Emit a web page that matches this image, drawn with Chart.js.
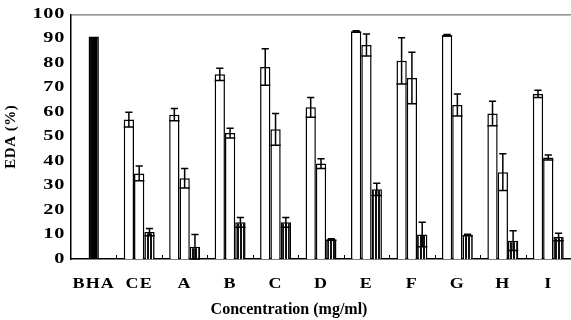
<!DOCTYPE html>
<html>
<head>
<meta charset="utf-8">
<script src="https://cdn.jsdelivr.net/npm/chart.js@4"></script>
<style>
  html, body { margin: 0; padding: 0; background: #fff; }
</style>
</head>
<body>
<canvas id="myChart" width="571" height="320"></canvas>
<script>
// data
const categories = ['BHA', 'CE', 'A', 'B', 'C', 'D', 'E', 'F', 'G', 'H', 'I'];
const series1 = [null, 57, 59, 75.5, 78.5, 62, 93, 81, 91.5, 59.5, 67.5];
const series1Err = [null, 3, 2.5, 2.5, 7.5, 4, 0.3, 9.5, 0.3, 5, 1.5];
const series2 = [91, 35, 33, 51.5, 53, 39, 87.5, 74, 63, 35.5, 41.5];
const series2Err = [0, 3, 4, 2, 6.5, 2, 4.5, 10.5, 4.5, 7.5, 1];
const series3 = [null, 11, 5, 15, 15, 8, 28.5, 10, 9.8, 7.5, 9];
const series3Err = [null, 1.5, 5, 2, 2, 0.3, 2.5, 5, 0.3, 4, 1.5];
const yTicks = [0, 10, 20, 30, 40, 50, 60, 70, 80, 90, 100];

const serif = 'Liberation Serif';

// vertical stripes for the third bar
function stripes() {
    const c = document.createElement('canvas');
    c.width = 3; c.height = 4;
    const g = c.getContext('2d');
    g.fillStyle = '#fff';
    g.fillRect(0, 0, 3, 4);
    g.fillStyle = '#111';
    g.fillRect(0, 0, 2, 4);
    return g.createPattern(c, 'repeat');
}

// the scanned figure has wide lettering: each label is stretched sideways
// round its own anchor. The x title sits at the middle of the page.
function spaceOut(scale, labelSp, stretch, titleSp, titleDx) {
    if (scale._spaced) return;
    scale._spaced = true;
    const dl = scale.drawLabels.bind(scale);
    const dt = scale.drawTitle.bind(scale);
    scale.drawLabels = function(area) {
        const c = this.ctx;
        const fill = c.fillText;
        c.save();
        c.letterSpacing = labelSp;
        c.fillText = function(t, x, y) {
            this.save();
            this.translate(x, y);
            this.scale(stretch, 1);
            fill.call(this, t, 0, 0);
            this.restore();
        };
        dl(area);
        delete c.fillText;
        c.restore();
    };
    scale.drawTitle = function() {
        this.ctx.save();
        this.ctx.letterSpacing = titleSp;
        this.ctx.translate(titleDx, 0);
        dt();
        this.ctx.restore();
    };
}

const errorBars = {
    id: 'errorBars',
    afterDatasetsDraw(chart) {
        const ctx = chart.ctx;
        const y = chart.scales.y;
        ctx.save();
        ctx.strokeStyle = '#000';
        ctx.lineWidth = 1.5;
        chart.data.datasets.forEach((ds, i) => {
            const meta = chart.getDatasetMeta(i);
            meta.data.forEach((bar, j) => {
                const v = ds.data[j];
                const e = ds.errors[j];
                if (v == null || !e) return;
                const hi = y.getPixelForValue(v + e);
                const lo = y.getPixelForValue(v - e);
                const half = bar.width / 2;
                ctx.beginPath();
                ctx.moveTo(bar.x, lo);
                ctx.lineTo(bar.x, hi);
                ctx.moveTo(bar.x - half * 0.7, hi);
                ctx.lineTo(bar.x + half * 0.7, hi);
                ctx.moveTo(bar.x - half, lo);
                ctx.lineTo(bar.x + half, lo);
                ctx.stroke();
            });
        });
        ctx.restore();
    }
};

const frame = {
    id: 'frame',
    afterLayout(chart) {
        spaceOut(chart.scales.x, '1px', 1.2, '0px', -32);
        spaceOut(chart.scales.y, '0.5px', 1.45, '0.5px', 0);
    },
    afterDraw(chart) {
        const ctx = chart.ctx;
        const a = chart.chartArea;
        ctx.save();
        ctx.strokeStyle = '#555';
        ctx.lineWidth = 1;
        ctx.beginPath();
        ctx.moveTo(a.left, a.top + 0.5);
        ctx.lineTo(a.right, a.top + 0.5);
        ctx.stroke();
        // little marks between the groups
        ctx.strokeStyle = '#000';
        const n = categories.length;
        const step = (a.right - a.left) / n;
        ctx.beginPath();
        for (let i = 1; i <= n; i++) {
            const x = Math.round(a.left + i * step) + 0.5;
            ctx.moveTo(x, a.bottom);
            ctx.lineTo(x, a.bottom - 4);
        }
        ctx.stroke();
        ctx.restore();
    }
};

const ctx = document.getElementById('myChart').getContext('2d');
new Chart(ctx, {
    type: 'bar',
    data: {
        labels: categories,
        datasets: [
            {
                label: 'series 1',
                data: series1,
                errors: series1Err,
                backgroundColor: '#fff',
                borderColor: '#000',
                borderWidth: 1.5
            },
            {
                label: 'series 2',
                data: series2,
                errors: series2Err,
                backgroundColor: categories.map((c, i) => i === 0 ? '#000' : '#fff'),
                borderColor: '#000',
                borderWidth: 1.5
            },
            {
                label: 'series 3',
                data: series3,
                errors: series3Err,
                backgroundColor: stripes(),
                borderColor: '#000',
                borderWidth: 1.5
            }
        ]
    },
    options: {
        responsive: false,
        animation: false,
        events: [],
        layout: { padding: { top: 13, right: 0, left: 0, bottom: 0 } },
        datasets: {
            bar: { categoryPercentage: 0.68, barPercentage: 1.0, borderSkipped: 'bottom' }
        },
        plugins: {
            legend: { display: false },
            tooltip: { enabled: false }
        },
        scales: {
            x: {
                grid: { display: false, drawTicks: false },
                border: { display: true, color: '#000', width: 1.5 },
                ticks: {
                    color: '#000',
                    padding: 16,
                    maxRotation: 0,
                    font: { family: serif, size: 15, weight: 'bold' }
                },
                title: {
                    display: true,
                    text: 'Concentration (mg/ml)',
                    color: '#000',
                    padding: { top: 2, bottom: 1 },
                    font: { family: serif, size: 16, weight: 'bold' }
                },
                afterFit(scale) { scale.height = 61; }
            },
            y: {
                min: 0,
                max: 100,
                afterBuildTicks(scale) { scale.ticks = yTicks.map(v => ({ value: v })); },
                grid: { display: false, drawTicks: false },
                border: { display: true, color: '#000', width: 1.5 },
                ticks: {
                    color: '#000',
                    padding: 6,
                    font: { family: serif, size: 14, weight: 'bold' }
                },
                title: {
                    display: true,
                    text: 'EDA (%)',
                    color: '#000',
                    padding: { top: 2, bottom: 2 },
                    font: { family: serif, size: 15, weight: 'bold' }
                },
                afterFit(scale) { scale.width = 71; }
            }
        }
    },
    plugins: [errorBars, frame]
});
</script>
</body>
</html>
